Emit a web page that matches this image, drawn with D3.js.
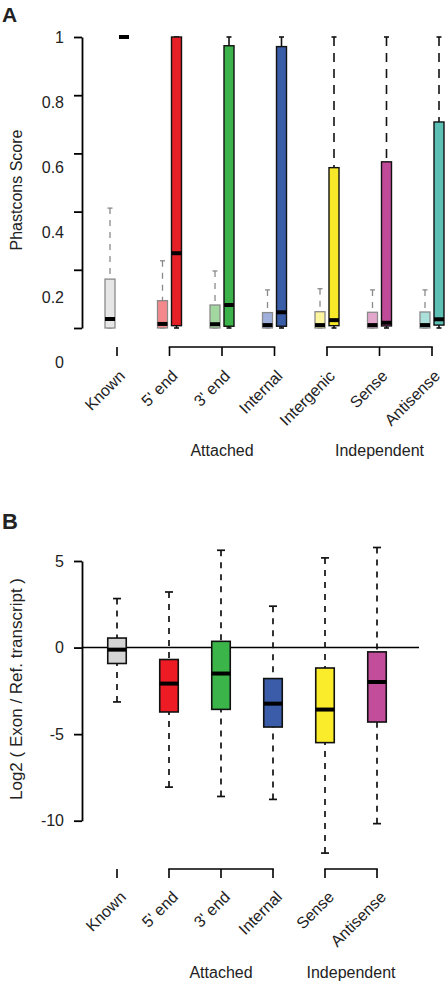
<!DOCTYPE html>
<html><head><meta charset="utf-8">
<script src="https://cdn.jsdelivr.net/npm/d3@7"></script>
<style>body{margin:0;background:#fff}svg{display:block}text{font-family:"Liberation Sans",Arial,sans-serif;fill:#222}</style>
</head><body><svg id="c" width="446" height="983"></svg>
<script>
// ---------- Panel A data ----------
const categoriesA = ["Known", "5' end", "3' end", "Internal", "Intergenic", "Sense", "Antisense"];
// [lowWhisker, q1, median, q3, highWhisker]
const phastControl = [
  [0, 0, 0.031, 0.168, 0.412],
  [0, 0, 0.014, 0.094, 0.231],
  [0, 0, 0.013, 0.079, 0.196],
  [0, 0, 0.010, 0.053, 0.131],
  [0, 0, 0.010, 0.056, 0.135],
  [0, 0, 0.010, 0.054, 0.131],
  [0, 0, 0.010, 0.055, 0.131]
];
const phastExon = [
  [1, 1, 1, 1, 1],
  [0, 0.008, 0.257, 1, 1],
  [0, 0.006, 0.079, 0.970, 1],
  [0, 0.006, 0.054, 0.967, 1],
  [0, 0.008, 0.027, 0.551, 1],
  [0, 0.007, 0.018, 0.571, 1],
  [0, 0.010, 0.030, 0.708, 1]
];
const controlColors = ["#e6e6e6", "#f4898c", "#a3d7a0", "#9fb0dc", "#fdf59d", "#e2a6cd", "#ace0da"];
const exonColors = ["#000000", "#e41f26", "#3bb34a", "#3a5da8", "#f7e92a", "#c04b98", "#5cc0b5"];
const tickValuesA = [0, 0.2, 0.4, 0.6, 0.8, 1];
const tickLabelsA = ["0", "0.2", "0.4", "0.6", "0.8", "1"];
const groupsA = [
  {label: "Attached", members: ["5' end", "3' end", "Internal"]},
  {label: "Independent", members: ["Intergenic", "Sense", "Antisense"]}
];

// ---------- Panel B data ----------
const categoriesB = ["Known", "5' end", "3' end", "Internal", "Sense", "Antisense"];
const exonRatio = [
  [-3.14, -0.92, -0.12, 0.55, 2.83],
  [-8.06, -3.72, -2.08, -0.69, 3.21],
  [-8.60, -3.57, -1.50, 0.36, 5.62],
  [-8.77, -4.59, -3.24, -1.79, 2.39],
  [-11.87, -5.49, -3.58, -1.18, 5.18],
  [-10.17, -4.30, -1.99, -0.25, 5.78]
];
const colorsB = ["#d4d4d4", "#ed1c24", "#3bb54a", "#3a5ca9", "#fbec2b", "#c24d9b"];
const tickValuesB = [5, 0, -5, -10];
const groupsB = [
  {label: "Attached", members: ["5' end", "3' end", "Internal"]},
  {label: "Independent", members: ["Sense", "Antisense"]}
];

const svg = d3.select("#c");
svg.append("rect").attr("width", 446).attr("height", 983).attr("fill", "#fff");

function drawBox(g, cx, w, s, y, o) {
  const [lo, q1, med, q3, hi] = s;
  const bg = g.append("g");
  if (y(hi) < y(q3) - 0.5) {
    bg.append("line").attr("x1", cx).attr("x2", cx).attr("y1", y(hi)).attr("y2", y(q3))
      .attr("stroke", o.wc).attr("stroke-width", o.ww).attr("stroke-dasharray", o.dash);
  }
  bg.append("line").attr("x1", cx - o.cap / 2).attr("x2", cx + o.cap / 2).attr("y1", y(hi)).attr("y2", y(hi))
    .attr("stroke", o.wc).attr("stroke-width", o.ww);
  if (y(lo) > y(q1) + 0.5) {
    bg.append("line").attr("x1", cx).attr("x2", cx).attr("y1", y(lo)).attr("y2", y(q1))
      .attr("stroke", o.wc).attr("stroke-width", o.ww).attr("stroke-dasharray", o.dash);
  }
  bg.append("line").attr("x1", cx - o.cap / 2).attr("x2", cx + o.cap / 2).attr("y1", y(lo)).attr("y2", y(lo))
    .attr("stroke", o.wc).attr("stroke-width", o.ww);
  bg.append("rect").attr("x", cx - w / 2).attr("y", y(q3)).attr("width", w)
    .attr("height", Math.max(0, y(q1) - y(q3)))
    .attr("fill", o.fill).attr("stroke", o.stroke).attr("stroke-width", o.sw);
  bg.append("line").attr("x1", cx - w / 2).attr("x2", cx + w / 2).attr("y1", y(med)).attr("y2", y(med))
    .attr("stroke", "#000").attr("stroke-width", o.mw);
}

function drawCategoryAxis(g, x, cats, groups, lineY, tickLen, labelY, dx, dy) {
  const lw = 1.6;
  const single = cats.filter(c => !groups.some(gr => gr.members.includes(c)));
  single.forEach(c => {
    g.append("line").attr("x1", x(c)).attr("x2", x(c)).attr("y1", lineY).attr("y2", lineY + tickLen)
      .attr("stroke", "#000").attr("stroke-width", lw);
  });
  groups.forEach(gr => {
    const xs = gr.members.map(m => x(m));
    g.append("line").attr("x1", d3.min(xs) - lw / 2).attr("x2", d3.max(xs) + lw / 2).attr("y1", lineY).attr("y2", lineY)
      .attr("stroke", "#000").attr("stroke-width", lw);
    xs.forEach(xx => g.append("line").attr("x1", xx).attr("x2", xx).attr("y1", lineY).attr("y2", lineY + tickLen)
      .attr("stroke", "#000").attr("stroke-width", lw));
    g.append("text").attr("x", (d3.min(xs) + d3.max(xs)) / 2).attr("y", labelY)
      .attr("text-anchor", "middle").attr("font-size", 16).text(gr.label);
  });
  cats.forEach(c => {
    const ax = x(c) + dx, ay = lineY + tickLen + dy;
    g.append("text").attr("transform", `translate(${ax},${ay}) rotate(-45)`)
      .attr("text-anchor", "end").attr("font-size", 16).text(c);
  });
}

// ---------- Panel A ----------
const gA = svg.append("g");
const xA = d3.scalePoint().domain(categoriesA).range([117, 432]);
const yA = d3.scaleLinear().domain([0, 1]).range([328, 37]);
const yALabel = d3.scaleLinear().domain([0, 1]).range([362, 37]);

gA.append("text").attr("x", 2).attr("y", 22).attr("font-size", 21).attr("font-weight", "bold").text("A");

const axA = gA.append("g").attr("transform", "translate(82,0)")
  .call(d3.axisLeft(yA).tickValues(tickValuesA).tickSize(8).tickSizeOuter(0).tickFormat(""));
axA.selectAll("path,line").attr("stroke", "#000").attr("stroke-width", 1.8);
gA.selectAll(".tlA").data(tickValuesA).join("text")
  .attr("x", 64).attr("y", d => yALabel(d)).attr("dy", "0.36em")
  .attr("text-anchor", "end").attr("font-size", 16).text((d, i) => tickLabelsA[i]);
gA.append("text").attr("transform", "translate(22,190) rotate(-90)")
  .attr("text-anchor", "middle").attr("font-size", 16).text("Phastcons Score");

categoriesA.forEach((c, i) => {
  const cx = xA(c);
  drawBox(gA, cx - 7, 10, phastControl[i], yA, {fill: controlColors[i], stroke: "#8a8a8a", sw: 1.3,
    wc: "#8a8a8a", ww: 1.3, dash: "6,6", cap: 5, mw: 4});
  drawBox(gA, cx + 7, 10, phastExon[i], yA, {fill: exonColors[i], stroke: "#111", sw: 1.4,
    wc: "#111", ww: 1.6, dash: "9,7", cap: 5, mw: 4});
});

drawCategoryAxis(gA, xA, categoriesA, groupsA, 347, 9, 456, 9, 21);

// ---------- Panel B ----------
const gB = svg.append("g");
const xB = d3.scalePoint().domain(categoriesB).range([117, 377]);
const yB = d3.scaleLinear().domain([-10, 5]).range([820.7, 561]);

gB.append("text").attr("x", 2).attr("y", 529).attr("font-size", 22).attr("font-weight", "bold").text("B");

const axB = gB.append("g").attr("transform", "translate(82,0)")
  .call(d3.axisLeft(yB).tickValues(tickValuesB).tickSize(8).tickSizeOuter(0).tickFormat(""));
axB.selectAll("path,line").attr("stroke", "#000").attr("stroke-width", 1.8);
gB.selectAll(".tlB").data(tickValuesB).join("text")
  .attr("x", 64).attr("y", d => yB(d)).attr("dy", "0.36em")
  .attr("text-anchor", "end").attr("font-size", 16).text(d => String(d));
gB.append("text").attr("transform", "translate(22,689) rotate(-90)")
  .attr("text-anchor", "middle").attr("font-size", 17).text("Log2 ( Exon / Ref. transcript )");

gB.append("line").attr("x1", 82).attr("x2", 419).attr("y1", yB(0)).attr("y2", yB(0))
  .attr("stroke", "#000").attr("stroke-width", 1.6);

categoriesB.forEach((c, i) => {
  drawBox(gB, xB(c), 18.5, exonRatio[i], yB, {fill: colorsB[i], stroke: "#111", sw: 1.6,
    wc: "#111", ww: 1.7, dash: "6,6", cap: 8, mw: 4});
});

drawCategoryAxis(gB, xB, categoriesB, groupsB, 869, 9, 978, 10, 20);
</script></body></html>
